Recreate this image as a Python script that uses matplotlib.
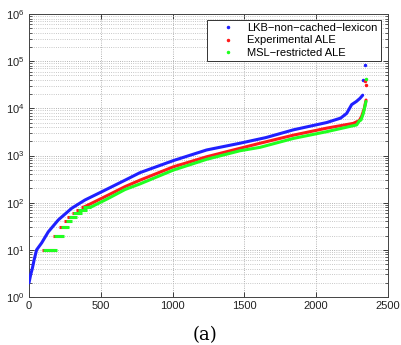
import numpy as np
import matplotlib
matplotlib.use('Agg')
import matplotlib.pyplot as plt
from matplotlib.lines import Line2D
from matplotlib.ticker import LogLocator, NullFormatter, FixedLocator

# readings (x = item rank, y = value)
lkb_x = [0, 12, 23, 35, 45, 53, 88, 134, 204, 297, 390, 506, 669, 773, 1005, 1237,
         1469, 1650, 1841, 2073, 2170, 2212, 2247, 2280, 2305, 2324]
lkb_y = [2, 3, 4, 6, 8, 10, 14, 24, 43, 76, 114, 170, 300, 433, 780, 1310,
         1820, 2400, 3500, 5000, 6200, 7800, 12000, 14000, 16300, 19000]
lkb_out_x = [2328, 2340]
lkb_out_y = [39000, 83000]

exp_x = [380, 436, 552, 669, 773, 1005, 1237, 1469, 1609, 1841, 2073, 2258,
         2300, 2317, 2335, 2347]
exp_y = [80, 97, 145, 219, 300, 575, 940, 1420, 1820, 2700, 3800, 4800,
         5500, 6800, 10000, 15000]
exp_out_x = [2338, 2347]
exp_out_y = [38000, 32000]

msl_x = [420, 436, 552, 669, 773, 1005, 1237, 1469, 1609, 1841, 2073, 2282,
         2300, 2312, 2328, 2347]
msl_y = [80, 82, 123, 190, 250, 490, 830, 1260, 1490, 2300, 3200, 4450,
         5400, 5650, 7800, 14000]
msl_out_x = [2347]
msl_out_y = [42000]

# low end: values are multiples of 10, they show as flat runs
step_lvl = [10, 20, 30, 40, 50, 60, 70, 80]
msl_step_x0 = [99, 176, 223, 255, 281, 308, 343, 378]
msl_step_x1 = [192, 246, 278, 302, 332, 367, 402, 432]
exp_step_x0 = [90, 165, 210, 243, 268, 296, 330, 365]
exp_step_x1 = [180, 235, 266, 290, 320, 355, 390, 420]

x_ticks = [0, 500, 1000, 1500, 2000, 2500]
y_ticks = [1, 10, 100, 1000, 10000, 100000, 1000000]

labels = ['LKB\u2212non\u2212cached\u2212lexicon', 'Experimental ALE', 'MSL\u2212restricted ALE']
colors = ['#2020ff', '#ff1a1a', '#20ff20']

plt.rcParams['font.family'] = ['Liberation Sans', 'DejaVu Sans']

fig = plt.figure(figsize=(4.02, 3.45), dpi=100)
ax = fig.add_axes([29/402, 1-297/345, 359/402, 283/345])

lw = 2.2
ax.plot(lkb_x, lkb_y, color=colors[0], lw=lw, solid_capstyle='round', zorder=3)
ax.plot(lkb_out_x, lkb_out_y, '.', color=colors[0], ms=3, zorder=3)

ax.hlines(step_lvl, exp_step_x0, exp_step_x1, color=colors[1], lw=lw, zorder=3)
ax.plot(exp_x, exp_y, color=colors[1], lw=lw, solid_capstyle='round', zorder=3)
ax.plot(exp_out_x, exp_out_y, '.', color=colors[1], ms=3, zorder=3)

ax.hlines(step_lvl, msl_step_x0, msl_step_x1, color=colors[2], lw=lw, zorder=4)
ax.plot(msl_x, msl_y, color=colors[2], lw=lw, solid_capstyle='round', zorder=4)
ax.plot(msl_out_x, msl_out_y, '.', color=colors[2], ms=3, zorder=4)

ax.set_yscale('log')
ax.set_xlim(0, 2500)
ax.set_ylim(1, 1e6)
ax.xaxis.set_major_locator(FixedLocator(x_ticks))
ax.yaxis.set_major_locator(FixedLocator(y_ticks))
ax.yaxis.set_minor_locator(LogLocator(base=10, subs=np.arange(2, 10), numticks=20))
ax.yaxis.set_minor_formatter(NullFormatter())

ax.grid(True, which='major', ls=':', color='#9a9a9a', lw=0.6)
ax.grid(True, which='minor', axis='y', ls=':', color='#b5b5b5', lw=0.6)
ax.set_axisbelow(True)

ax.tick_params(which='both', direction='in', top=True, right=True, labelsize=8, colors='#222222')
ax.tick_params(which='major', length=3.5, width=0.6, pad=3)
ax.tick_params(which='minor', length=2, width=0.5)
for s in ax.spines.values():
    s.set_linewidth(0.7)
    s.set_color('#444444')

handles = [Line2D([], [], ls='none', marker='.', ms=3, color=c) for c in colors]
leg = ax.legend(handles, labels, loc='upper right', bbox_to_anchor=(0.980, 0.979),
                borderaxespad=0, fontsize=8, handlelength=3.2, handletextpad=0.15,
                labelspacing=0.2, borderpad=0.3, fancybox=False, framealpha=1,
                edgecolor='#333333')
leg.get_frame().set_linewidth(0.7)

fig.text(205.5/402, 1-335/345, '(a)', family='DejaVu Serif', fontsize=13,
         ha='center', va='center')

fig.savefig('out.png', dpi=100)
